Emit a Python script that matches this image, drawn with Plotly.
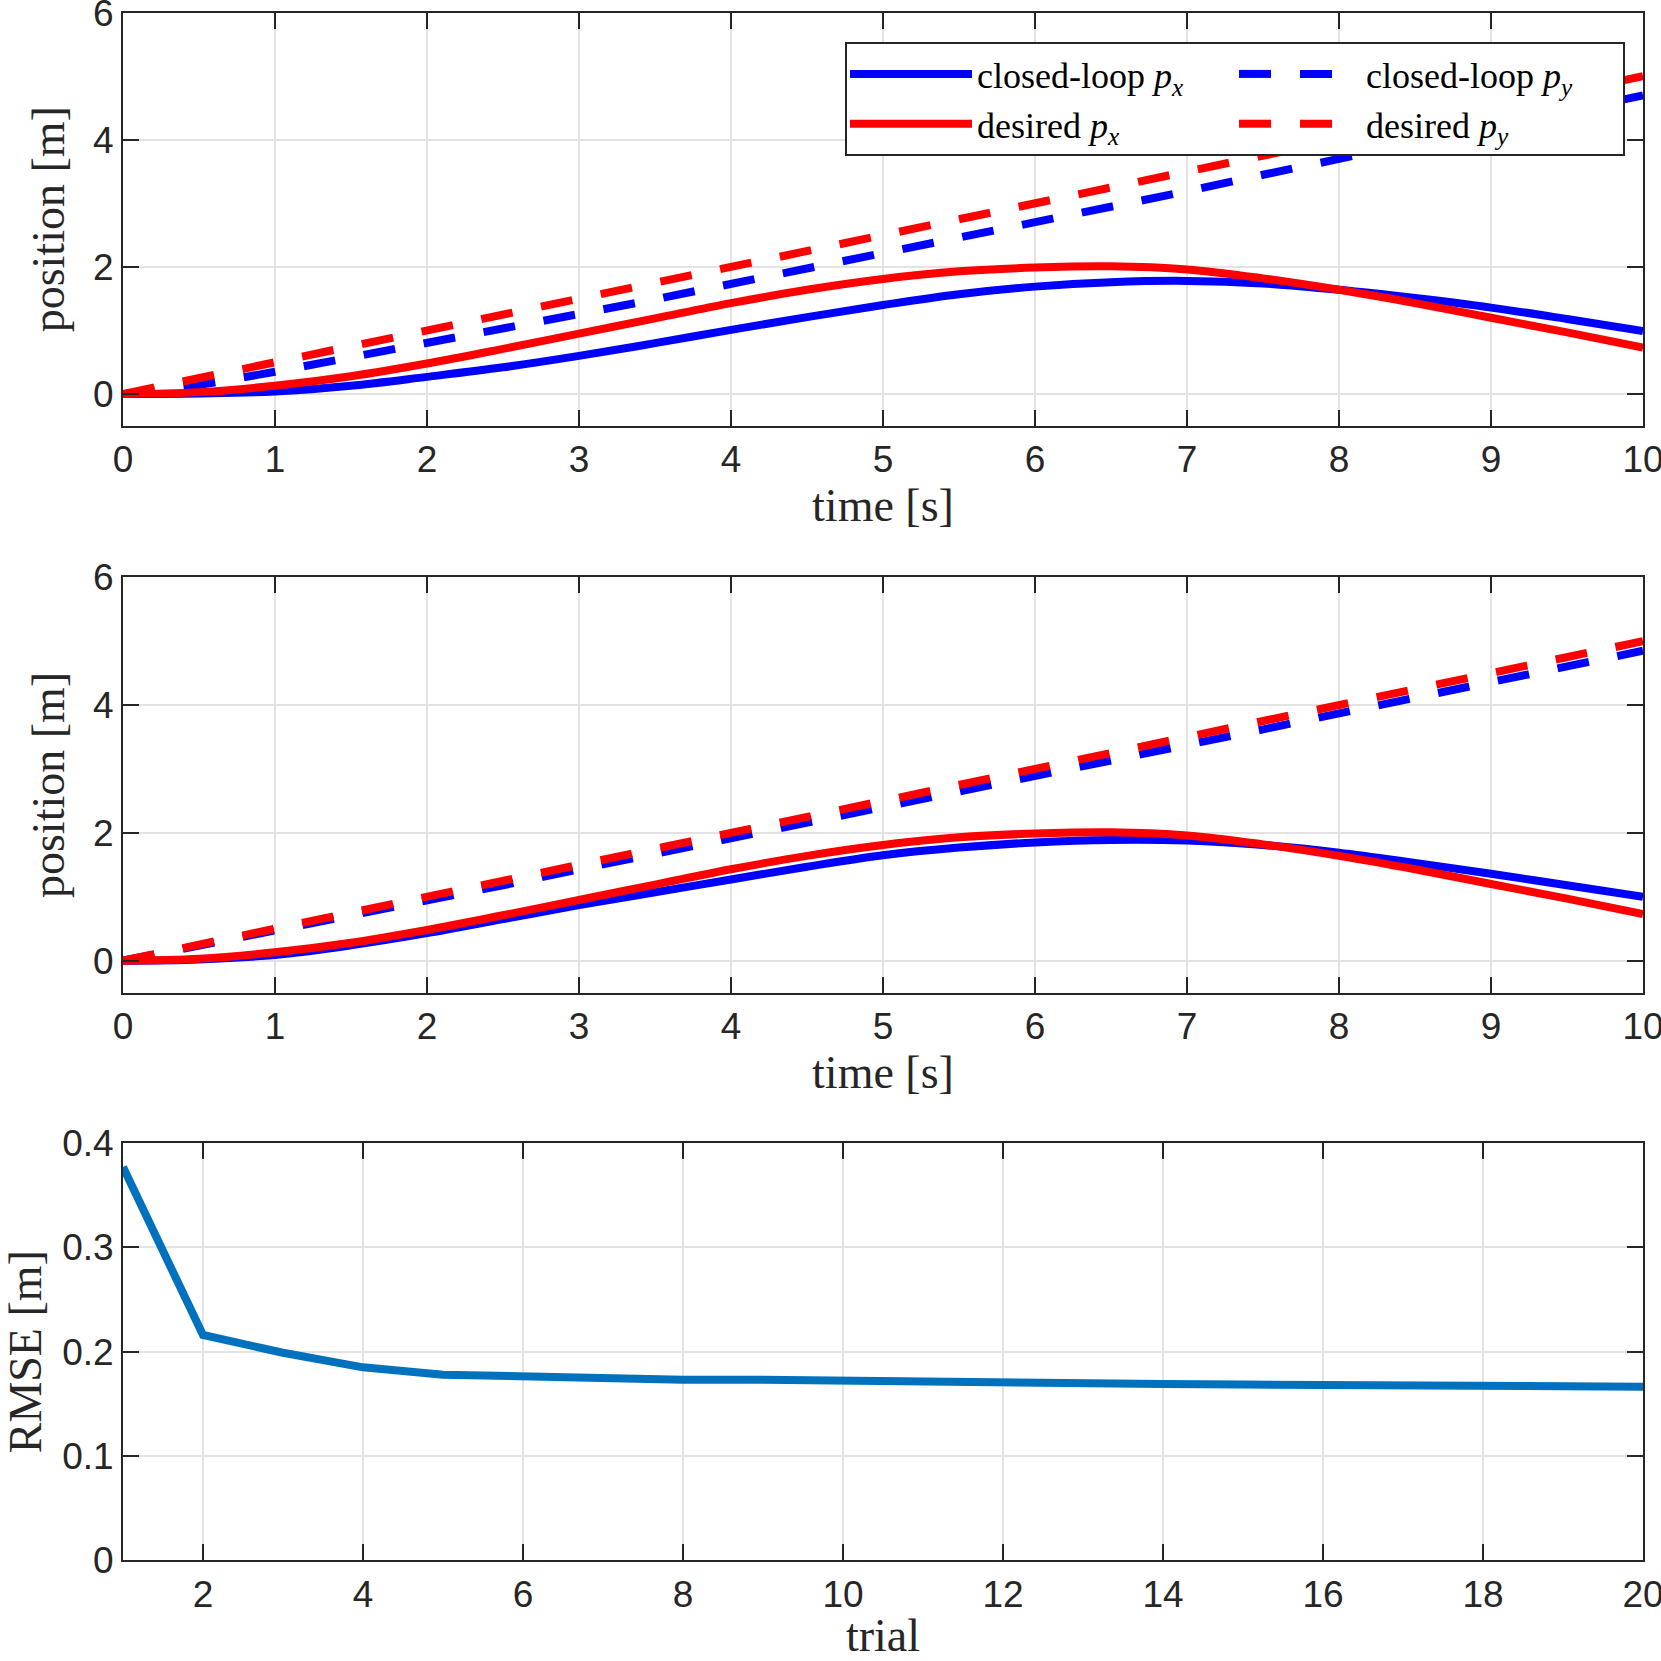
import plotly.graph_objects as go

# ---------------- data ----------------
t = [0, 0.5, 1, 1.5, 2, 2.5, 3, 3.5, 4, 4.5, 5, 5.5, 6, 6.5, 7, 7.5, 8, 8.5, 9, 9.5, 10]

desired_px = [0, 0.03, 0.13, 0.28, 0.48, 0.71, 0.95, 1.19, 1.43, 1.64, 1.81, 1.93,
              1.99, 2.01, 1.96, 1.82, 1.64, 1.43, 1.20, 0.97, 0.73]
desired_py = [0, 0.25, 0.5, 0.75, 1.0, 1.25, 1.5, 1.75, 2.0, 2.25, 2.5, 2.75,
              3.0, 3.25, 3.5, 3.75, 4.0, 4.25, 4.5, 4.75, 5.0]

cl_px_1 = [0, 0.01, 0.04, 0.13, 0.27, 0.42, 0.60, 0.80, 1.01, 1.21, 1.40, 1.57,
           1.69, 1.76, 1.78, 1.74, 1.64, 1.51, 1.36, 1.18, 0.99]
cl_py_1 = [0, 0.14, 0.35, 0.57, 0.79, 1.02, 1.26, 1.49, 1.73, 1.96, 2.20, 2.44,
           2.68, 2.93, 3.19, 3.45, 3.70, 3.95, 4.20, 4.45, 4.70]

cl_px_2 = [0, 0.02, 0.09, 0.24, 0.43, 0.65, 0.87, 1.07, 1.27, 1.47, 1.65, 1.77,
           1.85, 1.89, 1.88, 1.81, 1.69, 1.53, 1.36, 1.18, 1.00]
cl_py_2 = [0, 0.23, 0.46, 0.70, 0.94, 1.18, 1.43, 1.67, 1.92, 2.16, 2.40, 2.63,
           2.87, 3.12, 3.37, 3.62, 3.87, 4.11, 4.36, 4.60, 4.85]

trials = list(range(1, 21))
rmse = [0.377, 0.216, 0.199, 0.185, 0.178, 0.176, 0.174, 0.173, 0.173, 0.172,
        0.1705, 0.170, 0.1695, 0.169, 0.1685, 0.168, 0.168, 0.1675, 0.167, 0.1665]

pos_ticks = [0, 2, 4, 6]
time_ticks = list(range(0, 11))
trial_ticks = list(range(2, 21, 2))
rmse_ticks = [0, 0.1, 0.2, 0.3, 0.4]
rmse_ticktext = ["0", "0.1", "0.2", "0.3", "0.4"]

# ---------------- style ----------------
BLUE = "rgb(0,0,255)"
RED = "rgb(255,0,0)"
MBLUE = "#0072BD"
AX = "#262626"
GRID = "#e3e3e3"
LW = 8
DASH = "32px,29px"
SANS = "Liberation Sans"
SERIF = "Liberation Serif"

fig = go.Figure()

def ln(color, dash=None, shape="spline"):
    d = dict(color=color, width=LW, shape=shape)
    if dash:
        d["dash"] = dash
    return d

# subplot 1 (legend entries)
fig.add_trace(go.Scatter(x=t, y=cl_px_1, mode="lines", line=ln(BLUE),
                         name="closed-loop <i>p</i><sub><i>x</i></sub>",
                         legendgroup="px", xaxis="x", yaxis="y"))
fig.add_trace(go.Scatter(x=t, y=cl_py_1, mode="lines", line=ln(BLUE, DASH, "linear"),
                         name="closed-loop <i>p</i><sub><i>y</i></sub>",
                         legendgroup="py", xaxis="x", yaxis="y"))
fig.add_trace(go.Scatter(x=t, y=desired_px, mode="lines", line=ln(RED),
                         name="desired <i>p</i><sub><i>x</i></sub>",
                         legendgroup="px", xaxis="x", yaxis="y"))
fig.add_trace(go.Scatter(x=t, y=desired_py, mode="lines", line=ln(RED, DASH, "linear"),
                         name="desired <i>p</i><sub><i>y</i></sub>",
                         legendgroup="py", xaxis="x", yaxis="y"))

# subplot 2
fig.add_trace(go.Scatter(x=t, y=cl_px_2, mode="lines", line=ln(BLUE),
                         showlegend=False, xaxis="x2", yaxis="y2"))
fig.add_trace(go.Scatter(x=t, y=cl_py_2, mode="lines", line=ln(BLUE, DASH, "linear"),
                         showlegend=False, xaxis="x2", yaxis="y2"))
fig.add_trace(go.Scatter(x=t, y=desired_px, mode="lines", line=ln(RED),
                         showlegend=False, xaxis="x2", yaxis="y2"))
fig.add_trace(go.Scatter(x=t, y=desired_py, mode="lines", line=ln(RED, DASH, "linear"),
                         showlegend=False, xaxis="x2", yaxis="y2"))

# subplot 3
fig.add_trace(go.Scatter(x=trials, y=rmse, mode="lines",
                         line=dict(color=MBLUE, width=LW),
                         showlegend=False, xaxis="x3", yaxis="y3"))

W = H = 1661
xd = [123 / W, 1643 / W]
doms = [[1 - 425.8 / H, 1 - 12.7 / H],
        [1 - 992.6 / H, 1 - 577.3 / H],
        [1 - 1560.4 / H, 1 - 1143 / H]]

common = dict(showline=True, linecolor=AX, linewidth=2, mirror="ticks",
              ticks="inside", ticklen=16, tickwidth=2, tickcolor=AX,
              showgrid=True, gridcolor=GRID, gridwidth=2, zeroline=False,
              automargin=False, ticklabeloverflow="allow",
              tickfont=dict(family=SANS, size=37, color=AX))
title_font = dict(family=SERIF, size=46, color=AX)

layout = dict(
    width=W, height=H,
    margin=dict(l=0, r=0, t=0, b=0),
    paper_bgcolor="white", plot_bgcolor="white",
    showlegend=True,
    legend=dict(orientation="h", traceorder="grouped", x=845 / W, xanchor="left",
                y=1 - 42 / H, yanchor="top", bgcolor="white", bordercolor=AX,
                borderwidth=2, font=dict(family=SERIF, size=36, color="black"),
                itemwidth=122, entrywidth=252, entrywidthmode="pixels",
                itemclick=False),
)

for i, suffix in enumerate(["", "2", "3"]):
    anchor = "y" + suffix
    layout["xaxis" + suffix] = dict(domain=xd, anchor=anchor, **common)
    layout["yaxis" + suffix] = dict(domain=doms[i], anchor="x" + suffix, **common)

for s in ["", "2"]:
    layout["xaxis" + s].update(range=[0, 10], tickvals=time_ticks,
                               title=dict(text="time [s]", font=title_font, standoff=6))
    layout["yaxis" + s].update(range=[-0.5, 6], tickvals=pos_ticks,
                               title=dict(text="position [m]", font=title_font, standoff=14))

layout["xaxis3"].update(range=[1, 20], tickvals=trial_ticks,
                        title=dict(text="trial", font=title_font, standoff=6))
layout["yaxis3"].update(range=[0, 0.4], tickvals=rmse_ticks, ticktext=rmse_ticktext,
                        title=dict(text="RMSE [m]", font=title_font, standoff=17))

fig.update_layout(**layout)
fig.write_html("out.html", config={"displayModeBar": False},
               post_script="document.body.style.margin='0';document.body.style.overflow='hidden';")
